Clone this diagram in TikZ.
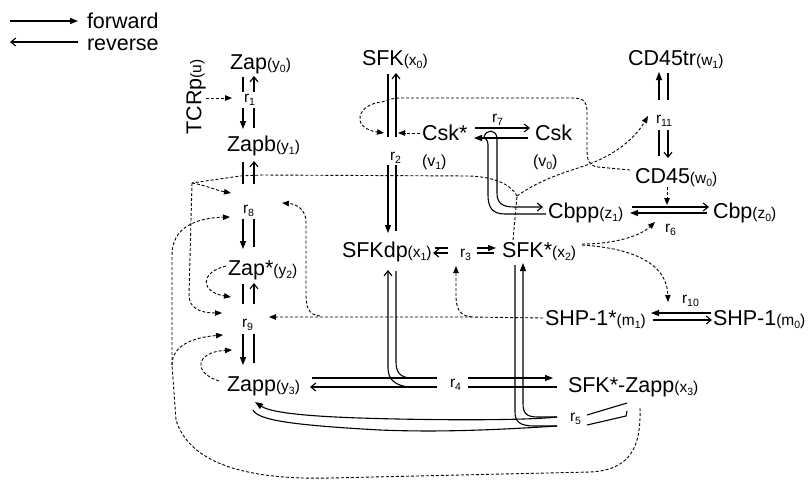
\documentclass[tikz,border=0pt]{standalone}
\usepackage{fontspec}
\setmainfont{Liberation Sans}
\usetikzlibrary{arrows.meta}
\newcommand\smp[1]{{\fontsize{15.5}{17}\selectfont(#1)}}
\newcommand\mysub[1]{\raisebox{-0.22em}{\fontsize{10.5}{12}\selectfont #1}}
\tikzset{
  lbl/.style={anchor=base west, inner sep=0pt, outer sep=0pt, font=\fontsize{21.5}{24}\selectfont},
  rl/.style={anchor=base west, inner sep=0pt, outer sep=0pt, font=\fontsize{15.5}{17}\selectfont},
  ln/.style={line width=1.1pt},
  fw/.style={ln, -{Triangle[length=8pt,width=6pt]}},
  rv/.style={ln, -{Straight Barb[length=5pt,width=8pt]}},
  dsh/.style={line width=0.9pt, dash pattern=on 3pt off 2pt},
  da/.style={dsh, -{Triangle[length=7pt,width=5.5pt]}},
}
\begin{document}
\begin{tikzpicture}[x=1pt,y=-1pt]
\useasboundingbox (0,0) rectangle (810,480);
% legend
\draw[fw] (10,21) -- (78,21);
\node[lbl] (fwd) at (87,28) {forward};
\draw[rv] (78,42) -- (10,42);
\node[lbl] (rev) at (87,50) {reverse};
% TCRp
\node[rotate=90, inner sep=0pt, font=\fontsize{21.5}{24}\selectfont] (tcr) at (196,97) {TCRp\smp{u}};
\draw[da] (206,98) -- (232,98);
% Zap column
\node[lbl] (zap0) at (230,69) {Zap\smp{y\mysub{0}}};
\draw[ln] (243,77) -- (243,92); \draw[rv] (254,92) -- (254,76);
\node[rl] (r1) at (244,102) {r\mysub{1}};
\draw[fw] (243,108) -- (243,129); \draw[ln] (254,108) -- (254,128);
\node[lbl] (zapb) at (227,151) {Zapb\smp{y\mysub{1}}};
\draw[ln] (243,162) -- (243,184); \draw[rv] (254,184) -- (254,161);
\node[rl] (r8) at (243,213) {r\mysub{8}};
\draw[fw] (243,219) -- (243,249); \draw[ln] (254,219) -- (254,247);
\node[lbl] (zaps) at (228,275) {Zap*\smp{y\mysub{2}}};
\draw[ln] (243,284) -- (243,304); \draw[rv] (254,304) -- (254,283);
\node[rl] (r9) at (242,327) {r\mysub{9}};
\draw[fw] (243,334) -- (243,365); \draw[ln] (254,334) -- (254,363);
\node[lbl] (zapp) at (227,391) {Zapp\smp{y\mysub{3}}};
% SFK column
\node[lbl] (sfk) at (362,65) {SFK\smp{x\mysub{0}}};
\draw[ln] (388,74) -- (388,137); \draw[rv] (396,137) -- (396,73);
\node[lbl] (csks) at (422,140) {Csk*};
\draw[da] (420,133) -- (398,133);
\node[rl, font=\fontsize{16}{18}\selectfont] (v1) at (422,166) {(v\mysub{1})};
\node[rl] (r2) at (390,160) {r\mysub{2}};
\draw[fw] (388,165) -- (388,233); \draw[ln] (396,165) -- (396,231);
\node[lbl] (sfkdp) at (342,257) {SFKdp\smp{x\mysub{1}}};
\draw[rv] (410,387) .. controls (396,386) and (388,380) .. (388,368) -- (388,270);
\draw[ln] (396,271) -- (396,362) .. controls (396,372) and (400,378) .. (412,378);
% Csk
\node[lbl] (csk) at (535,140) {Csk};
\node[rl, font=\fontsize{16}{18}\selectfont] (v0) at (533,166) {(v\mysub{0})};
\node[rl] (r7) at (492,122) {r\mysub{7}};
\draw[rv] (475,128) -- (530,128); \draw[fw] (528,138) -- (474,138);
\draw[rv] (484,137) .. controls (486,129) and (496,129) .. (497,138) -- (497,193) .. controls (497,203) and (502,207) .. (514,207) -- (543,207);
\draw[ln] (546,214) -- (505,214) .. controls (492,214) and (488,207) .. (488,195) -- (488,145) .. controls (488,140) and (486,138) .. (482,138);
% r3 and SFK*
\node[rl] (r3) at (460,257) {r\mysub{3}};
\draw[ln] (435,248) -- (448,248); \draw[rv] (448,253) -- (433,253);
\draw[fw] (477,248) -- (496,248); \draw[ln] (477,253) -- (494,253);
\node[lbl] (sfks) at (502,257) {SFK*\smp{x\mysub{2}}};
\draw[ln] (515,265) -- (515,412) .. controls (515,422) and (520,426) .. (535,426) -- (557,426);
\draw[fw] (557,417) -- (538,417) .. controls (526,417) and (523,413) .. (523,403) -- (523,263);
% CD45
\node[lbl] (cd45tr) at (628,65) {CD45tr\smp{w\mysub{1}}};
\draw[fw] (659,100) -- (659,72); \draw[ln] (668,73) -- (668,100);
\node[rl] (r11) at (656,123) {r\mysub{11}};
\draw[ln] (659,130) -- (659,156); \draw[rv] (668,130) -- (668,158);
\node[lbl] (cd45) at (635,183) {CD45\smp{w\mysub{0}}};
% Cbp
\node[lbl] (cbpp) at (548,218) {Cbpp\smp{z\mysub{1}}};
\node[lbl] (cbp) at (713,218) {Cbp\smp{z\mysub{0}}};
\draw[rv] (632,207) -- (709,207); \draw[fw] (707,213) -- (630,213);
\node[rl] (r6) at (665,232) {r\mysub{6}};
\draw[da] (667,187) -- (667,205);
% SHP-1
\node[lbl] (shps) at (545,325) {SHP-1*\smp{m\mysub{1}}};
\node[lbl] (shp) at (713,325) {SHP-1\smp{m\mysub{0}}};
\draw[fw] (711,313) -- (651,313); \draw[rv] (653,320) -- (712,320);
\node[rl] (r10) at (682,303) {r\mysub{10}};
% SFK*-Zapp, r4, r5
\node[lbl] (x3) at (568,392) {SFK*-Zapp\smp{x\mysub{3}}};
\draw[ln] (312,378) -- (437,378); \draw[rv] (437,387) -- (310,387);
\node[rl] (r4) at (450,387) {r\mysub{4}};
\draw[fw] (468,378) -- (553,378); \draw[ln] (468,387) -- (557,387);
\node[rl] (r5) at (570,421) {r\mysub{5}};
\draw[ln] (587,415) -- (627,403);
\draw[ln] (587,425) -- (626,416) -- (627,411);
\draw[fw] (557,417) .. controls (520,421) and (420,420) .. (360,418) .. controls (300,416) and (270,412) .. (255,402);
\draw[ln] (253,410) .. controls (258,420) and (290,425) .. (380,430) .. controls (430,432) and (480,431) .. (557,426);
% dashed: CD45 -> r2
\draw[da] (630,170) -- (598,167) .. controls (589,166) and (587,160) .. (587,150) -- (587,112) .. controls (587,100) and (582,98) .. (572,98) -- (400,98) .. controls (392,98) and (388,100) .. (382,102) .. controls (357,104) and (350,128) .. (384,133);
% dashed: SFK* -> r8, r9, r11
\coordinate (vv) at (517,196);
\draw[dsh] (513,240) -- (vv);
\draw[dsh] (vv) .. controls (510,183) and (492,177) .. (470,176) -- (262,175) -- (240,176) -- (192,183);
\draw[da] (192,183) .. controls (205,185) and (215,190) .. (231,193);
\draw[da] (192,183) -- (189,295) .. controls (189,308) and (200,313) .. (222,313);
\draw[da] (vv) .. controls (545,176) and (575,170) .. (592,163) .. controls (620,152) and (637,135) .. (648,116);
% SFK* -> r6, r10
\draw[da] (582,244) .. controls (615,244) and (640,236) .. (655,222);
\draw[da] (582,245) .. controls (630,248) and (667,262) .. (668,302);
% SHP-1* -> r9, r3, r8
\draw[da] (543,318) -- (470,317) -- (269,317);
\draw[da] (472,317) .. controls (459,316) and (456,308) .. (456,295) -- (456,266);
\draw[da] (320,316) .. controls (308,315) and (306,306) .. (306,295) -- (306,222) .. controls (306,210) and (297,204) .. (282,203);
% self loops
\draw[da] (226,266) .. controls (200,272) and (200,292) .. (231,297);
\draw[da] (219,381) .. controls (193,373) and (195,352) .. (232,350);
% SFK*-Zapp -> r8, r9
\draw[dsh] (640,408) .. controls (641,445) and (632,470) .. (590,472) -- (330,478) .. controls (250,480) and (190,465) .. (176,420) -- (172,365);
\draw[da] (172,365) .. controls (172,343) and (198,337) .. (223,335);
\draw[da] (172,365) -- (172,255) .. controls (172,228) and (195,218) .. (230,217);
\end{tikzpicture}
\end{document}
